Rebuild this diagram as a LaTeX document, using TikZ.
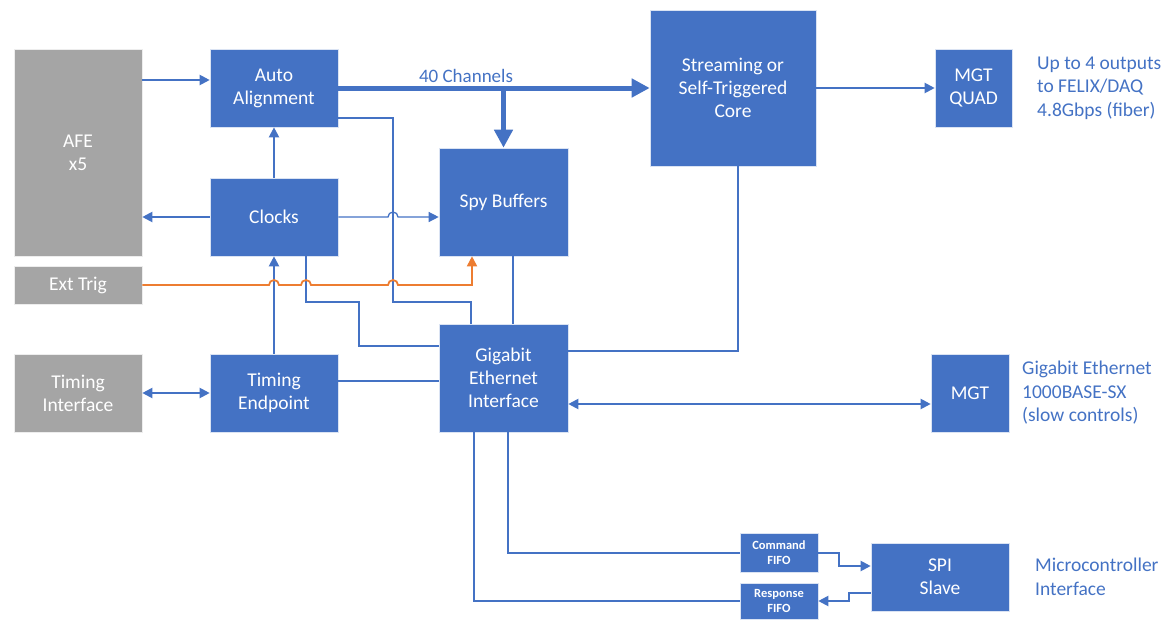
\documentclass[tikz,border=0pt]{standalone}
\usepackage{fontspec}
\setmainfont{Carlito}
\usepackage{tikz}
\usetikzlibrary{
	arrows.meta,
	calc,
	positioning
}
\definecolor{OfficeBlue}{RGB}{68,114,196}
\definecolor{BoxGray}{RGB}{165,165,165}
\definecolor{TrigOrange}{RGB}{237,125,49}

\begin{document}
\begin{tikzpicture}[x=1pt, y=-1pt, >={Triangle[length=10pt,width=10pt]},
		blk/.style={fill=OfficeBlue, draw=white!80!OfficeBlue, line width=0.6pt, text=white, align=center, inner sep=0pt, font=\fontsize{19.5}{23}\selectfont},
		extblk/.style={blk, fill=BoxGray, draw=white!80!BoxGray},
		fifo/.style={blk, font=\fontsize{12.5}{15}\selectfont\bfseries},
		lbl/.style={text=OfficeBlue, align=left, anchor=west, inner sep=0pt, font=\fontsize{19.5}{23.5}\selectfont},
		link/.style={draw=OfficeBlue, line width=2pt},
		fine/.style={draw=OfficeBlue, line width=1.3pt},
		bus/.style={draw=OfficeBlue, line width=5pt},
		trig/.style={draw=TrigOrange, line width=1.8pt}
	]
		\useasboundingbox (0,0) rectangle (1165,619);

		% external blocks
		\node[extblk, minimum width=128pt, minimum height=207pt] (afe) at (78,152.5) {AFE\\x5};
		\node[extblk, minimum width=128pt, minimum height=38pt] (ext) at (78,285) {Ext Trig};
		\node[extblk, minimum width=128pt, minimum height=78pt] (ti) at (78,393) {Timing\\Interface};

		% firmware blocks
		\node[blk, minimum width=128pt, minimum height=78pt] (aa) at (274,88) {Auto\\Alignment};
		\node[blk, minimum width=128pt, minimum height=78pt] (clk) at (274,217) {Clocks};
		\node[blk, minimum width=128pt, minimum height=78pt] (te) at (274,393) {Timing\\Endpoint};
		\node[blk, minimum width=129pt, minimum height=108pt] (spy) at (503.5,202) {Spy Buffers};
		\node[blk, minimum width=129pt, minimum height=108pt] (gbe) at (503.5,378) {Gigabit\\Ethernet\\Interface};
		\node[blk, minimum width=166pt, minimum height=156pt] (core) at (733,88) {Streaming or\\Self-Triggered\\Core};
		\node[blk, minimum width=77pt, minimum height=78pt] (quad) at (973.5,88) {MGT\\QUAD};
		\node[blk, minimum width=78pt, minimum height=78pt] (mgt) at (970,393) {MGT};
		\node[fifo, minimum width=78pt, minimum height=39pt] (cmd) at (779,552.5) {Command\\FIFO};
		\node[fifo, minimum width=78pt, minimum height=36pt] (rsp) at (779,601) {Response\\FIFO};
		\node[blk, minimum width=138pt, minimum height=68pt] (spi) at (940,577) {SPI\\Slave};

		% side labels
		\node[text=OfficeBlue, inner sep=0pt, font=\fontsize{19}{22}\selectfont] (chan) at (466,76) {40 Channels};
		\node[lbl] (quadlbl) at (1037,88) {Up to 4 outputs\\to FELIX/DAQ\\4.8Gbps (fiber)};
		\node[lbl] (mgtlbl) at (1022,393) {Gigabit Ethernet\\1000BASE-SX\\(slow controls)};
		\node[lbl] (spilbl) at (1035,577) {Microcontroller\\Interface};

		% data path
		\draw[link,->] ([yshift=8pt]afe.east |- aa.west) -- ([yshift=8pt]aa.west);
		\draw[bus,-{Triangle[length=18pt,width=18pt]}] (aa.east) -- (core.west |- aa.east);
		\draw[bus,-{Triangle[length=18pt,width=18pt]}] (spy.north |- aa.east) -- (spy.north);
		\draw[link,->] (core.east) -- (quad.west);
		\draw[link] ([yshift=-30pt]aa.east) -| (393,302) -| ([xshift=-32.5pt]gbe.north);

		% clocks and timing
		\draw[link,->] (clk.north) -- (aa.south);
		\draw[link,->] (clk.west) -- (afe.east |- clk.west);
		\draw[fine,->] (clk.east) -- (388,217) arc[start angle=180, end angle=360, radius=5] -- (spy.west |- clk.east);
		\draw[link] ([xshift=32pt]clk.south) |- (359,302) |- ([yshift=32pt]gbe.west);
		\draw[link,->] (te.north) -- (clk.south);
		\draw[link,<->] (ti.east) -- (te.west);
		\draw[link] ([yshift=12pt]te.east) -- ([yshift=12pt]te.east -| gbe.west);

		% external trigger (hops over the blue lines)
		\draw[trig,->] (ext.east) -- (269,285) arc[start angle=180, end angle=360, radius=5]
			-- (301,285) arc[start angle=180, end angle=360, radius=5]
			-- (388,285) arc[start angle=180, end angle=360, radius=5]
			-| ([xshift=-31.5pt]spy.south);

		% ethernet side
		\draw[fine] ([xshift=9.5pt]spy.south) -- ([xshift=9.5pt]gbe.north);
		\draw[fine] ([xshift=5pt]core.south) |- ([yshift=27pt]gbe.east);
		\draw[link,<->] ([yshift=-26pt]gbe.east) -- ([yshift=-26pt]gbe.east -| mgt.west);
		\draw[link] ([xshift=4.5pt]gbe.south) |- (cmd.west);
		\draw[link] (rsp.west) -| ([xshift=-29.5pt]gbe.south);
		\draw[link,->] (cmd.east) -| (839,566) -- ([yshift=11pt]spi.west);
		\draw[link,->] ([yshift=-16pt]spi.west) -| (849,601) -- (rsp.east);
	\end{tikzpicture}
\end{document}
